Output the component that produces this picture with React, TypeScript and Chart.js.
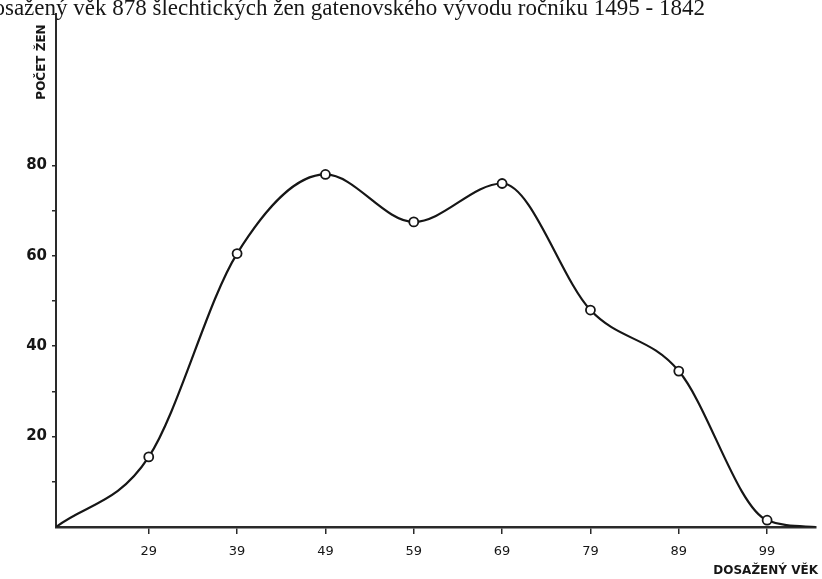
import React, { useEffect, useRef } from 'react';
import { Chart, registerables } from 'chart.js';

Chart.register(...registerables);

const TITLE = 'Dosažený věk 878 šlechtických žen gatenovského vývodu ročníku 1495 - 1842';
const Y_TITLE = 'POČET ŽEN';
const X_TITLE = 'DOSAŽENÝ VĚK';

// Age groups (x) and number of women (y)
const ages = [29, 39, 49, 59, 69, 79, 89, 99];
const women = [15.5, 60.5, 78, 67.5, 76, 48, 34.5, 1.5];
// the drawn curve starts at the origin and trails off along the axis
const curveStartAge = 18.5;
const curveStartWomen = 0;
const curveEndAge = 104.5;
const curveEndWomen = 0;

const xTickValues = [29, 39, 49, 59, 69, 79, 89, 99];
const yTickValues = [10, 20, 30, 40, 50, 60, 70, 80];
const yLabelledTicks = [20, 40, 60, 80];

const X_MIN = 18.5;
const X_MAX = 104.5;
const Y_MIN = 0;
const Y_MAX = 113.5;

const INK = '#161616';

const textPlugin = {
  id: 'handTexts',
  afterDraw(chart: any) {
    const ctx = chart.ctx as CanvasRenderingContext2D;
    ctx.save();
    ctx.fillStyle = INK;
    ctx.font = '23px "Liberation Serif", "DejaVu Serif", serif';
    ctx.textAlign = 'right';
    ctx.textBaseline = 'alphabetic';
    ctx.fillText(TITLE, 705, 15);

    ctx.font = 'bold 12px "DejaVu Sans", sans-serif';
    ctx.textAlign = 'right';
    ctx.textBaseline = 'middle';
    ctx.fillText(X_TITLE, 818, 571);

    ctx.translate(42, 62);
    ctx.rotate(-Math.PI / 2);
    ctx.textAlign = 'center';
    ctx.textBaseline = 'middle';
    ctx.fillText(Y_TITLE, 0, 0);
    ctx.restore();
  },
};

export default function App() {
  const ref = useRef<HTMLCanvasElement | null>(null);

  useEffect(() => {
    if (!ref.current) return;
    const curve = [
      { x: curveStartAge, y: curveStartWomen },
      ...ages.map((a, i) => ({ x: a, y: women[i] })),
      { x: curveEndAge, y: curveEndWomen },
    ];
    const markers = ages.map((a, i) => ({ x: a, y: women[i] }));

    const chart = new Chart(ref.current, {
      type: 'line',
      data: {
        datasets: [
          {
            type: 'scatter',
            data: markers,
            pointRadius: 4.5,
            pointBorderWidth: 1.8,
            pointBackgroundColor: '#ffffff',
            pointBorderColor: INK,
            showLine: false,
            order: 0,
          } as any,
          {
            data: curve,
            borderColor: INK,
            borderWidth: 2.2,
            pointRadius: 0,
            fill: false,
            cubicInterpolationMode: 'monotone',
            order: 1,
          },
        ],
      },
      options: {
        responsive: false,
        animation: false,
        devicePixelRatio: 1,
        layout: { padding: { top: 14, left: 0, right: 0, bottom: 0 } },
        plugins: {
          legend: { display: false },
          tooltip: { enabled: false },
          title: { display: false },
        },
        scales: {
          x: {
            type: 'linear',
            min: X_MIN,
            max: X_MAX,
            afterBuildTicks: (s: any) => {
              s.ticks = xTickValues.map((v) => ({ value: v }));
            },
            afterFit: (s: any) => {
              s.height = 52;
              s.paddingLeft = 0;
              s.paddingRight = 0;
            },
            ticks: {
              autoSkip: false,
              maxRotation: 0,
              padding: 10,
              color: INK,
              font: { family: '"DejaVu Sans", sans-serif', size: 13 },
              callback: (v: any) => String(v),
            },
            grid: {
              drawOnChartArea: false,
              drawTicks: true,
              tickLength: 7,
              color: '#2a2a2a',
              lineWidth: 1.5,
            },
            border: { display: true, color: '#2a2a2a', width: 2.5 },
          },
          y: {
            type: 'linear',
            min: Y_MIN,
            max: Y_MAX,
            afterBuildTicks: (s: any) => {
              s.ticks = yTickValues.map((v) => ({ value: v }));
            },
            afterFit: (s: any) => {
              s.width = 56;
              s.paddingTop = 0;
              s.paddingBottom = 0;
            },
            ticks: {
              autoSkip: false,
              padding: 5,
              color: INK,
              font: { family: '"DejaVu Sans", sans-serif', size: 15, weight: 'bold' },
              callback: (v: any) => (yLabelledTicks.includes(v) ? String(v) : ''),
            },
            grid: {
              drawOnChartArea: false,
              drawTicks: true,
              tickLength: 4,
              color: '#2a2a2a',
              lineWidth: 1.5,
            },
            border: { display: true, color: '#2a2a2a', width: 2 },
          },
        },
      },
      plugins: [textPlugin],
    });
    return () => chart.destroy();
  }, []);

  return (
    <div style={{ position: 'absolute', left: 0, top: 0, width: 822, height: 579, background: '#fff' }}>
      <canvas ref={ref} width={822} height={579} style={{ display: 'block' }} />
    </div>
  );
}
